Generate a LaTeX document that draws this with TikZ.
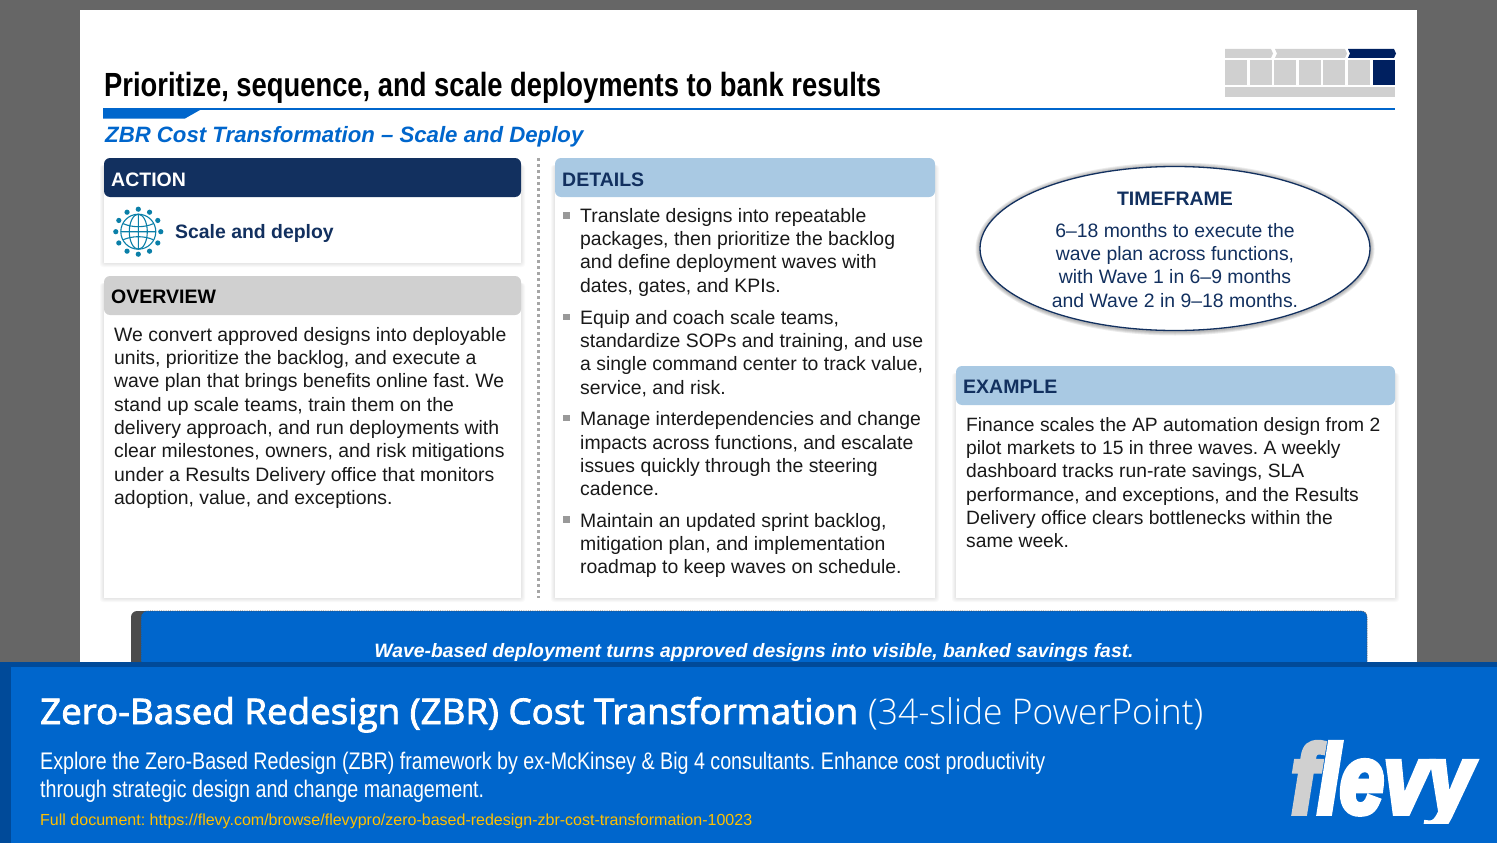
\documentclass[tikz,border=0pt]{standalone}
\usepackage{graphicx}
\usepackage{fontspec}
\setmainfont{Liberation Sans}
\newfontfamily\bannersemi[FakeBold=2.4]{Open Sans}
\newfontfamily\bannerlight{Open Sans Light}
\newfontfamily\logofont[FakeBold=6]{Liberation Sans}
\usetikzlibrary{shapes.geometric,calc}
\definecolor{bgc}{HTML}{666666}
\definecolor{navy}{HTML}{12305F}
\definecolor{deep}{HTML}{002060}
\definecolor{flevy}{HTML}{0066CC}
\definecolor{flevyd}{HTML}{004A99}
\definecolor{sky}{HTML}{A9C9E3}
\definecolor{greyh}{HTML}{D0D0D0}
\definecolor{teal}{HTML}{0A7FA8}
\definecolor{link}{HTML}{FFC000}
\newcommand\fitw[2]{\resizebox{#1}{\height}{#2}}
\newcommand\softbox[4]{%
  \foreach \d in {4,3,2,1}{\fill[black,opacity=.025,rounded corners=3pt] (#1-\d,#2) rectangle (#3+\d,#4+\d);}
  \fill[white] (#1,#2) rectangle (#3,#4);}
\tikzset{
  x=1pt,y=-1pt,
  body/.style={anchor=north west,inner sep=0pt,align=left,font=\fontsize{19.4}{23.3}\selectfont,text=black!90},
  head/.style={anchor=base west,inner sep=0pt,font=\fontsize{19.5}{24}\selectfont\bfseries},
  sq/.style={fill=greyh,draw=none},
  bullet/.style={fill=black!40,draw=none},
}
\begin{document}
\frenchspacing
\begin{tikzpicture}
\useasboundingbox (0,0) rectangle (1497,843);
\fill[bgc] (0,0) rectangle (1497,843);
\fill[white] (80,10) rectangle (1417,670);
% title
\node[anchor=base west,inner sep=0pt,font=\fontsize{33.5}{36}\selectfont\bfseries] (title) at (104,96.5) {\fitw{777pt}{Prioritize, sequence, and scale deployments to bank results}};
\fill[flevy] (103,108.3) rectangle (1395,110);
\fill[flevy] (103,110) -- (200,110) -- (185,118.5) -- (103,118.5) -- cycle;
\node[anchor=base west,inner sep=0pt,text=flevy,font=\fontsize{22.2}{28}\selectfont\bfseries\itshape] (sub) at (105,142.5) {ZBR Cost Transformation -- Scale and Deploy};
% tracker icon
\fill[greyh] (1225,49) -- (1271,49) -- (1273,53.5) -- (1271,58) -- (1225,58) -- cycle;
\fill[greyh] (1275,49) -- (1345,49) -- (1347,53.5) -- (1345,58) -- (1275,58) -- (1277,53.5) -- cycle;
\fill[deep] (1348,49) -- (1394,49) -- (1396,53.5) -- (1394,58) -- (1348,58) -- (1350,53.5) -- cycle;
\foreach \xx in {1225,1249.6,1274,1298.7,1323,1348}{\fill[greyh] (\xx,60) rectangle ++(22,25);}
\fill[deep] (1373,60) rectangle ++(22,25);
\fill[greyh] (1225,87) rectangle (1395,96.5);
% ACTION
\softbox{104}{165}{521}{263}
\fill[navy,rounded corners=6pt] (104,197) -- (104,158) -- (521,158) -- (521,197) -- cycle;
\node[head,text=white] (acth) at (111,186) {ACTION};
\node[anchor=base west,inner sep=0pt,text=navy,font=\fontsize{19.4}{24}\selectfont\bfseries] (actt) at (175,238) {Scale and deploy};
% globe icon
\begin{scope}[shift={(138.3,231.7)},teal]
  \foreach \a in {0,30,...,330}{\fill (\a:22.5) circle (2.6);}
  \draw[line width=1.1pt] (0,0) circle (17.5);
  \draw[line width=1.1pt] (0,0) ellipse (9 and 17.5);
  \draw[line width=1.1pt] (0,-17.5) -- (0,17.5) (-17.5,0) -- (17.5,0) (-15,-8) .. controls (-6,-4) and (6,-4) .. (15,-8) (-15,8) .. controls (-6,4) and (6,4) .. (15,8);
\end{scope}
% OVERVIEW
\softbox{104}{283}{521}{598}
\fill[greyh,rounded corners=6pt] (104,315) -- (104,276) -- (521,276) -- (521,315) -- cycle;
\node[head,text=black] (ovh) at (111,303) {OVERVIEW};
\node[body] (ovt) at (114,327) {We convert approved designs into deployable\\units, prioritize the backlog, and execute a\\wave plan that brings benefits online fast. We\\stand up scale teams, train them on the\\delivery approach, and run deployments with\\clear milestones, owners, and risk mitigations\\under a Results Delivery office that monitors\\adoption, value, and exceptions.};
% divider
\draw[black!35,line width=3pt,dash pattern=on 3pt off 3pt] (538,158) -- (538,598);
% DETAILS
\softbox{555}{165}{935}{598}
\fill[sky,rounded corners=6pt] (555,197) -- (555,158) -- (935,158) -- (935,197) -- cycle;
\node[head,text=navy] (deth) at (562,186) {DETAILS};
\foreach \yy in {215,316.5,417.5,519}{\fill[bullet] (563,\yy-3) rectangle ++(6.5,6.5);}
\node[body] (d1) at (580,208) {Translate designs into repeatable\\packages, then prioritize the backlog\\and define deployment waves with\\dates, gates, and KPIs.};
\node[body] (d2) at (580,310) {Equip and coach scale teams,\\standardize SOPs and training, and use\\a single command center to track value,\\service, and risk.};
\node[body] (d3) at (580,411.5) {Manage interdependencies and change\\impacts across functions, and escalate\\issues quickly through the steering\\cadence.};
\node[body] (d4) at (580,513) {Maintain an updated sprint backlog,\\mitigation plan, and implementation\\roadmap to keep waves on schedule.};
% EXAMPLE
\softbox{956}{373}{1395}{598}
\fill[sky,rounded corners=6pt] (956,405) -- (956,366) -- (1395,366) -- (1395,405) -- cycle;
\node[head,text=navy] (exh) at (963,393) {EXAMPLE};
\node[body,font=\fontsize{19.25}{23.3}\selectfont] (ext) at (966,417) {Finance scales the AP automation design from 2\\pilot markets to 15 in three waves. A weekly\\dashboard tracks run-rate savings, SLA\\performance, and exceptions, and the Results\\Delivery office clears bottlenecks within the\\same week.};
% TIMEFRAME
\foreach \d in {4.5,3.5,2.5,1.5}{\fill[black,opacity=.08] (1175,249) ellipse ({195+\d} and {82+\d});}
\draw[navy,fill=white,line width=1.3pt] (1175,248.5) ellipse (195 and 82);
\node[anchor=base,inner sep=0pt,text=navy,font=\fontsize{19.5}{24}\selectfont\bfseries] (tfh) at (1175,205) {TIMEFRAME};
\node[anchor=north,inner sep=0pt,align=center,text=navy,font=\fontsize{19.4}{23.3}\selectfont] (tft) at (1175,223) {6--18 months to execute the\\wave plan across functions,\\with Wave 1 in 6--9 months\\and Wave 2 in 9--18 months.};
% callout
\fill[black!70,rounded corners=6pt] (131,680) -- (131,611) -- (200,611) -- (200,680) -- cycle;
\fill[flevy,rounded corners=6pt] (141,680) -- (141,611) -- (1367,611) -- (1367,680) -- cycle;
\draw[black!70,densely dotted,rounded corners=6pt,line width=.8pt] (141,680) -- (141,611) -- (1367,611) -- (1367,680);
\node[anchor=base,inner sep=0pt,text=white,font=\fontsize{19.36}{24}\selectfont\bfseries\itshape] (call) at (754,657) {Wave-based deployment turns approved designs into visible, banked savings fast.};
% banner
\fill[flevyd] (0,662) rectangle (1497,843);
\fill[flevy] (11,667) rectangle (1497,843);
\node[anchor=base west,inner sep=0pt,text=white,font=\fontsize{35.4}{40}\selectfont\bannersemi] (bt) at (40,724) {\fitw{818pt}{Zero-Based Redesign (ZBR) Cost Transformation}};
\node[anchor=base west,inner sep=0pt,text=white,font=\fontsize{35.4}{40}\selectfont\bannerlight] (bt2) at (868,724) {\fitw{335pt}{(34-slide PowerPoint)}};
\node[anchor=base west,inner sep=0pt,text=white,font=\fontsize{24}{28}\selectfont] (b1) at (40,769) {\fitw{1005pt}{Explore the Zero-Based Redesign (ZBR) framework by ex-McKinsey \& Big 4 consultants. Enhance cost productivity}};
\node[anchor=base west,inner sep=0pt,text=white,font=\fontsize{24}{28}\selectfont] (b2) at (40,797) {\fitw{444pt}{through strategic design and change management.}};
\node[anchor=base west,inner sep=0pt,text=link,font=\fontsize{16}{20}\selectfont] (b3) at (40,825) {\fitw{712pt}{Full document: https://flevy.com/browse/flevypro/zero-based-redesign-zbr-cost-transformation-10023}};
\begin{scope}
\clip (1280,735) rectangle (1497,823.5);
\node[anchor=base west,inner sep=0pt,text=white,font=\fontsize{97}{100}\selectfont\logofont\bfseries\itshape] (logo) at (1291,813) {\fitw{181pt}{\textcolor{greyh}{f}levy}};
\end{scope}
\end{tikzpicture}
\end{document}
